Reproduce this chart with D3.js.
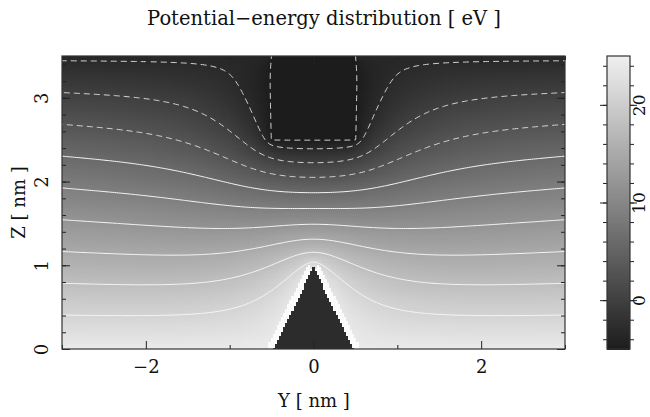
<!DOCTYPE html>
<html>
<head>
<meta charset="utf-8">
<script src="https://cdn.jsdelivr.net/npm/d3@7"></script>
<style>
body { margin: 0; background: #fff; }
text { font-family: "DejaVu Serif", serif; fill: #111; }
</style>
</head>
<body>
<div id="chart"></div>
<script>
// geometry + energies (nm, eV)
const yDomain = [-3, 3];
const zDomain = [0, 3.5];
const tipBase = [-0.48, 0.48];
const tipApex = 0.98;
const electrodeY = [-0.52, 0.52];
const electrodeBottom = 2.5;
const sampleEnergy = 24.2;     // z = 0 plane and tip
const topEnergy = -3.45;       // upper edge of the box
const electrodeEnergy = -5;
const tipShade = -2.7;         // how the tip interior is shaded
const haloShade = 27;          // bright rim round the tip
const solidLevels = [21, 18, 15, 12, 9, 6];
const dashedLevels = [3, 0, -3, -4.9];
const colorDomain = [-5, 25];
const xMajor = [-2, 0, 2];
const xMinor = [-3, -1, 1, 3];
const zMajor = [0, 1, 2, 3];
const cbMajor = [0, 10, 20];

const W = 650, H = 417;
const m = {left: 62, right: 565, top: 56, bottom: 349};
const cb = {left: 607, right: 630};

const x = d3.scaleLinear().domain(yDomain).range([m.left, m.right]);
const y = d3.scaleLinear().domain(zDomain).range([m.bottom, m.top]);
const color = d3.scaleLinear().domain(colorDomain).range(["#1c1c1c", "#f0f0f0"]);
const shadeColor = v => v > colorDomain[1] ? "#fbfbfb" : color(Math.max(v, colorDomain[0]));

// ---- relax the field on a grid (Laplace, fixed electrodes + box walls) ----
const h = 0.025;
const nx = Math.round((yDomain[1] - yDomain[0]) / h) + 1;
const nz = Math.round((zDomain[1] - zDomain[0]) / h) + 1;
const Y = i => yDomain[0] + i * h;
const Z = j => zDomain[0] + j * h;
function inTip(yy, zz) {
  const half = (tipBase[1] - tipBase[0]) / 2;
  return Math.abs(yy) <= half && zz <= tipApex * (1 - Math.abs(yy) / half);
}
function inElectrode(yy, zz) {
  return yy >= electrodeY[0] && yy <= electrodeY[1] && zz >= electrodeBottom;
}
const V = new Float64Array(nx * nz);
const fixed = new Uint8Array(nx * nz);
for (let j = 0; j < nz; j++) {
  for (let i = 0; i < nx; i++) {
    const k = i + j * nx, yy = Y(i), zz = Z(j);
    V[k] = sampleEnergy + (topEnergy - sampleEnergy) * zz / zDomain[1];
    if (j == 0 || inTip(yy, zz)) { V[k] = sampleEnergy; fixed[k] = 1; }
    else if (inElectrode(yy, zz)) { V[k] = electrodeEnergy; fixed[k] = 1; }
    else if (j == nz - 1 || i == 0 || i == nx - 1) { fixed[k] = 1; }
  }
}
const w = 1.92;
for (let it = 0; it < 2500; it++) {
  for (let j = 1; j < nz - 1; j++) {
    for (let i = 1; i < nx - 1; i++) {
      const k = i + j * nx;
      if (fixed[k]) continue;
      const avg = (V[k - 1] + V[k + 1] + V[k - nx] + V[k + nx]) / 4;
      V[k] += w * (avg - V[k]);
    }
  }
}

// shaded copy: tip interior dark, thin bright rim
const shade = Float64Array.from(V);
for (let j = 0; j < nz; j++) {
  for (let i = 0; i < nx; i++) {
    const k = i + j * nx, yy = Y(i), zz = Z(j);
    if (inTip(yy, zz)) shade[k] = tipShade;
    else if (inElectrode(yy, zz)) shade[k] = electrodeEnergy;
    else if (inTip(Math.abs(yy) - 0.06, zz - 0.05)) shade[k] = haloShade;
  }
}

const svg = d3.select("#chart").append("svg").attr("width", W).attr("height", H);
svg.append("clipPath").attr("id", "plotclip").append("rect")
  .attr("x", m.left).attr("y", m.top).attr("width", m.right - m.left).attr("height", m.bottom - m.top);

const cw = x(h) - x(0), ch = y(0) - y(h);
const cells = [];
for (let j = 0; j < nz; j++) for (let i = 0; i < nx; i++) cells.push([i, j]);
svg.append("g").attr("clip-path", "url(#plotclip)")
  .selectAll("rect").data(cells).join("rect")
  .attr("x", d => x(Y(d[0])) - cw / 2)
  .attr("y", d => y(Z(d[1])) - ch / 2)
  .attr("width", cw + 0.4).attr("height", ch + 0.4)
  .attr("shape-rendering", "crispEdges")
  .attr("fill", d => shadeColor(shade[d[0] + d[1] * nx]));

// contours
const proj = d3.geoTransform({
  point(px, pz) { this.stream.point(x(yDomain[0] + (px - 0.5) * h), y(zDomain[0] + (pz - 0.5) * h)); }
});
const path = d3.geoPath(proj);
const gc = svg.append("g").attr("clip-path", "url(#plotclip)").attr("fill", "none");
gc.selectAll("path.solid").data(d3.contours().size([nx, nz]).thresholds(solidLevels)(Array.from(V)))
  .join("path").attr("class", "solid").attr("d", path)
  .attr("stroke", "#f6f6f6").attr("stroke-width", 1);
gc.selectAll("path.dash").data(d3.contours().size([nx, nz]).thresholds(dashedLevels)(Array.from(V)))
  .join("path").attr("class", "dash").attr("d", path)
  .attr("stroke", "#d4d4d4").attr("stroke-width", 1).attr("stroke-dasharray", "6,4");

// frame + ticks
function ticks(axis, vals, size, tx, ty) {
  const g = svg.append("g").attr("transform", `translate(${tx},${ty})`)
    .call(axis.tickValues(vals).tickSizeInner(size).tickSizeOuter(0).tickFormat(""));
  g.select(".domain").remove();
  g.selectAll("line").attr("stroke", "#222");
  return g;
}
ticks(d3.axisBottom(x), xMinor, -4, 0, m.bottom);
ticks(d3.axisTop(x), xMinor, -4, 0, m.top);
ticks(d3.axisTop(x), xMajor, -8, 0, m.top);
ticks(d3.axisRight(y), d3.range(0, 3.51, 0.2), -4, m.right, 0);
ticks(d3.axisLeft(y), d3.range(0, 3.51, 0.2), -4, m.left, 0);
ticks(d3.axisRight(y), zMajor, -8, m.right, 0);

const xa = svg.append("g").attr("transform", `translate(0,${m.bottom})`)
  .call(d3.axisBottom(x).tickValues(xMajor).tickSizeInner(-8).tickSizeOuter(0).tickPadding(11)
    .tickFormat(d => d < 0 ? "\u2212" + Math.abs(d) : d));
xa.select(".domain").remove();
xa.selectAll("line").attr("stroke", "#222");
xa.selectAll("text").attr("font-size", 18).attr("font-family", "DejaVu Serif");

const ya = svg.append("g").attr("transform", `translate(${m.left},0)`)
  .call(d3.axisLeft(y).tickValues(zMajor).tickSizeInner(-8).tickSizeOuter(0).tickFormat(d3.format("d")));
ya.select(".domain").remove();
ya.selectAll("line").attr("stroke", "#222");
ya.selectAll("text").attr("x", null).attr("dy", null).attr("text-anchor", "middle")
  .attr("transform", "translate(-14,0) rotate(-90)")
  .attr("font-size", 18).attr("font-family", "DejaVu Serif");

svg.append("rect").attr("x", m.left).attr("y", m.top)
  .attr("width", m.right - m.left).attr("height", m.bottom - m.top)
  .attr("fill", "none").attr("stroke", "#333").attr("stroke-width", 1.2);

// colour bar
const cy = d3.scaleLinear().domain(colorDomain).range([m.bottom, m.top]);
const steps = d3.range(colorDomain[0], colorDomain[1], 0.2);
svg.append("g").selectAll("rect").data(steps).join("rect")
  .attr("x", cb.left).attr("width", cb.right - cb.left)
  .attr("y", d => cy(d + 0.2)).attr("height", d => cy(d) - cy(d + 0.2) + 0.5)
  .attr("shape-rendering", "crispEdges")
  .attr("fill", d => color(d + 0.1));
const cbMinor = d3.range(-4, 25, 2);
ticks(d3.axisRight(cy), cbMinor, -4, cb.left, 0);
ticks(d3.axisLeft(cy), cbMinor, -4, cb.right, 0);
ticks(d3.axisRight(cy), cbMajor, -7, cb.left, 0);
const ca = svg.append("g").attr("transform", `translate(${cb.right},0)`)
  .call(d3.axisLeft(cy).tickValues(cbMajor).tickSizeInner(-7).tickSizeOuter(0));
ca.select(".domain").remove();
ca.selectAll("line").attr("stroke", "#222");
ca.selectAll("text").attr("x", null).attr("dy", null).attr("text-anchor", "middle")
  .attr("transform", "translate(15,0) rotate(-90)")
  .attr("font-size", 17).attr("font-family", "DejaVu Serif");
svg.append("rect").attr("x", cb.left).attr("y", m.top)
  .attr("width", cb.right - cb.left).attr("height", m.bottom - m.top)
  .attr("fill", "none").attr("stroke", "#333").attr("stroke-width", 1.2);

// titles
svg.append("text").attr("x", 324).attr("y", 25).attr("text-anchor", "middle")
  .attr("font-size", 19.5).text("Potential\u2212energy distribution [ eV ]");
svg.append("text").attr("x", 314).attr("y", 407).attr("text-anchor", "middle")
  .attr("font-size", 18).text("Y [ nm ]");
svg.append("text").attr("transform", `translate(25,${(m.top + m.bottom) / 2}) rotate(-90)`)
  .attr("text-anchor", "middle").attr("font-size", 18).text("Z [ nm ]");
</script>
</body>
</html>
